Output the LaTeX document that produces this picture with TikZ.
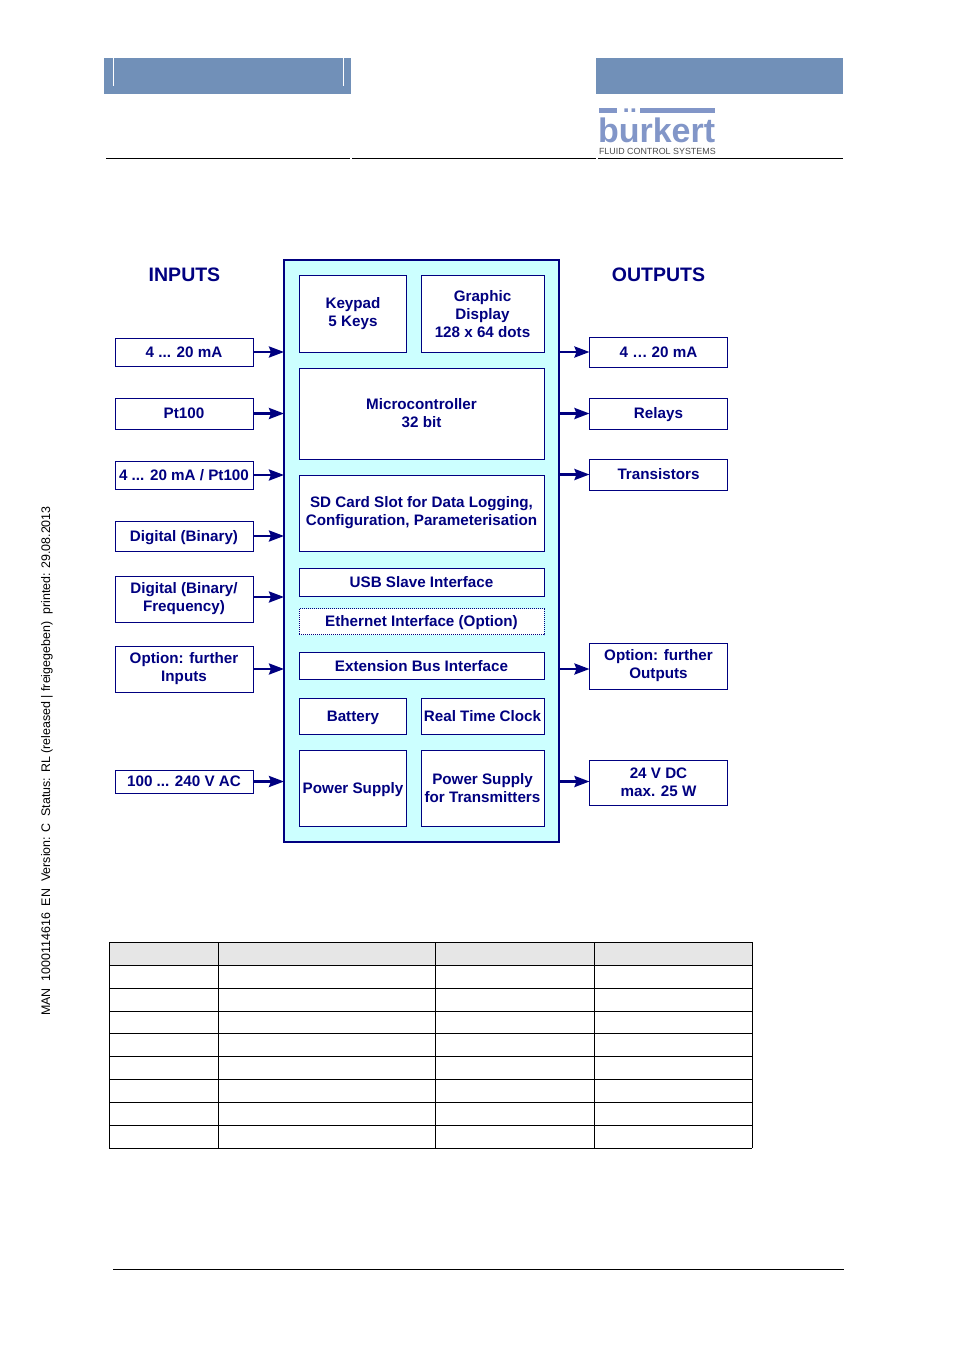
\documentclass[tikz,border=0pt]{standalone}
\usepackage{fontspec}
\setmainfont{Liberation Sans}
\usepackage{tikz}
\usetikzlibrary{arrows.meta}
\definecolor{navyblue}{HTML}{000080}
\definecolor{panelcyan}{HTML}{CCFFFF}
\definecolor{barblue}{HTML}{7190B8}
\definecolor{logoblue}{HTML}{8296C8}
\definecolor{headgrey}{HTML}{E6E6E6}

\begin{document}
\begin{tikzpicture}[x=1pt,y=-1pt,>=Stealth,
  every node/.style={font=\fontsize{15.2}{18}\selectfont\bfseries, text=navyblue, align=center, inner sep=0pt, outer sep=0pt},
  oneline/.style={text height=11pt, text depth=1pt},
  ibox/.style={draw=navyblue, line width=1pt, fill=white, minimum width=138pt},
  cbox/.style={draw=navyblue, line width=1pt, fill=white},
  link/.style={draw=navyblue, line width=2.6pt, arrows={-Stealth[length=15pt,width=11pt,inset=2pt]}}]
\useasboundingbox (0,0) rectangle (954,1350);

% page head
\fill[barblue] (104,58) rectangle (351,94);
\fill[barblue] (596,58) rectangle (843,94);
\draw[white, line width=0.4pt] (113,58) -- (113,86);
\draw[white, line width=0.4pt] (343,58) -- (343,86);
\draw[line width=0.8pt] (106,158) -- (350,158);
\draw[line width=0.8pt] (352,158) -- (596,158);
\draw[line width=0.8pt] (598,158) -- (843,158);
\fill[logoblue] (599,108) rectangle (617,113);
\fill[logoblue] (640,108) rectangle (715,113);
\node[font=\fontsize{34}{34}\selectfont\bfseries, text=logoblue, anchor=base west] (logo) at (598,142) {b\rlap{\raisebox{.25em}{\hspace{.05em}\"{}}}urkert};
\node[font=\fontsize{8.9}{9}\selectfont, text=black!70, anchor=base west] (claim) at (599,154) {FLUID CONTROL SYSTEMS};

% side text
\node[font=\fontsize{12.45}{14}\selectfont, text=black, rotate=90] (status) at (47,761) {MAN\ \ 1000114616\ \ EN\ \ Version: C\ \ Status: RL (released | freigegeben)\ \ printed: 29.08.2013};

% main block
\node[draw=navyblue, line width=2.5pt, fill=panelcyan, minimum width=275pt, minimum height=582pt] (main) at (421.5,551) {};
\node[cbox, minimum width=107pt, minimum height=77pt] (keypad) at (353,314) {Keypad\\5 Keys};
\node[cbox, minimum width=123pt, minimum height=77pt] (display) at (482.5,314) {Graphic\\Display\\128 x 64 dots};
\node[cbox, minimum width=245pt, minimum height=91pt] (micro) at (421.5,413.5) {Microcontroller\\32 bit};
\node[cbox, minimum width=245pt, minimum height=76pt] (sdcard) at (421.5,513) {SD Card Slot for Data Logging,\\Configuration, Parameterisation};
\node[cbox, oneline, minimum width=245pt, minimum height=28pt] (usb) at (421.5,582.5) {USB Slave Interface};
\node[cbox, oneline, densely dotted, minimum width=245pt, minimum height=26pt] (ether) at (421.5,621.5) {Ethernet Interface (Option)};
\node[cbox, oneline, minimum width=245pt, minimum height=27pt] (extbus) at (421.5,666) {Extension Bus Interface};
\node[cbox, oneline, minimum width=107pt, minimum height=36pt] (battery) at (353,716.5) {Battery};
\node[cbox, oneline, minimum width=123pt, minimum height=36pt] (clock) at (482.5,716.5) {Real Time Clock};
\node[cbox, oneline, minimum width=107pt, minimum height=76pt] (supply) at (353,788.5) {Power Supply};
\node[cbox, minimum width=123pt, minimum height=76pt] (txsupply) at (482.5,788.5) {Power Supply\\for Transmitters};

% inputs
\node[font=\fontsize{19.5}{22}\selectfont\bfseries] (inputs) at (184.5,275) {INPUTS};
\node[ibox, oneline, minimum height=28pt] (in1) at (184,352) {4 ... 20 mA};
\node[ibox, oneline, minimum height=31pt] (in2) at (184,413.5) {Pt100};
\node[ibox, oneline, minimum height=28pt] (in3) at (184,475) {4 ... 20 mA / Pt100};
\node[ibox, oneline, minimum height=30pt] (in4) at (184,536) {Digital (Binary)};
\node[ibox, minimum height=46pt] (in5) at (184,599) {Digital (Binary/\\Frequency)};
\node[ibox, minimum height=46pt] (in6) at (184,669) {Option: further\\Inputs};
\node[ibox, oneline, minimum height=23pt] (in7) at (184,781.5) {100 ... 240 V AC};

% outputs
\node[font=\fontsize{19.5}{22}\selectfont\bfseries] (outputs) at (658.5,275) {OUTPUTS};
\node[ibox, oneline, minimum height=30pt] (out1) at (658.5,352) {4 … 20 mA};
\node[ibox, oneline, minimum height=31pt] (out2) at (658.5,413.5) {Relays};
\node[ibox, oneline, minimum height=31pt] (out3) at (658.5,474.5) {Transistors};
\node[ibox, minimum height=46pt] (out4) at (658.5,666) {Option: further\\Outputs};
\node[ibox, minimum height=45pt] (out5) at (658.5,782.5) {24 V DC\\max. 25 W};

% links
\foreach \i in {1,2,3,4,6,7}
  \draw[link] (in\i.east) -- (in\i.east -| main.west);
\draw[link] ([yshift=2pt]in5.east) -- ([yshift=2pt]in5.east -| main.west);
\foreach \i in {1,2,3}
  \draw[link] (out\i.west -| main.east) -- (out\i.west);
\draw[link] (main.east |- in6.east) -- (out4.west |- in6.east);
\draw[link] (main.east |- in7.east) -- (out5.west |- in7.east);

% table
\fill[headgrey] (109,942) rectangle (752,965);
\foreach \y in {942,965,988,1011,1033,1056,1079,1102,1125,1148}
  \draw[line width=0.7pt] (109,\y) -- (752,\y);
\foreach \x in {109,218,435,594,752}
  \draw[line width=0.7pt] (\x,942) -- (\x,1148);

% page foot
\draw[line width=0.7pt] (113,1269) -- (844,1269);
\end{tikzpicture}
\end{document}
